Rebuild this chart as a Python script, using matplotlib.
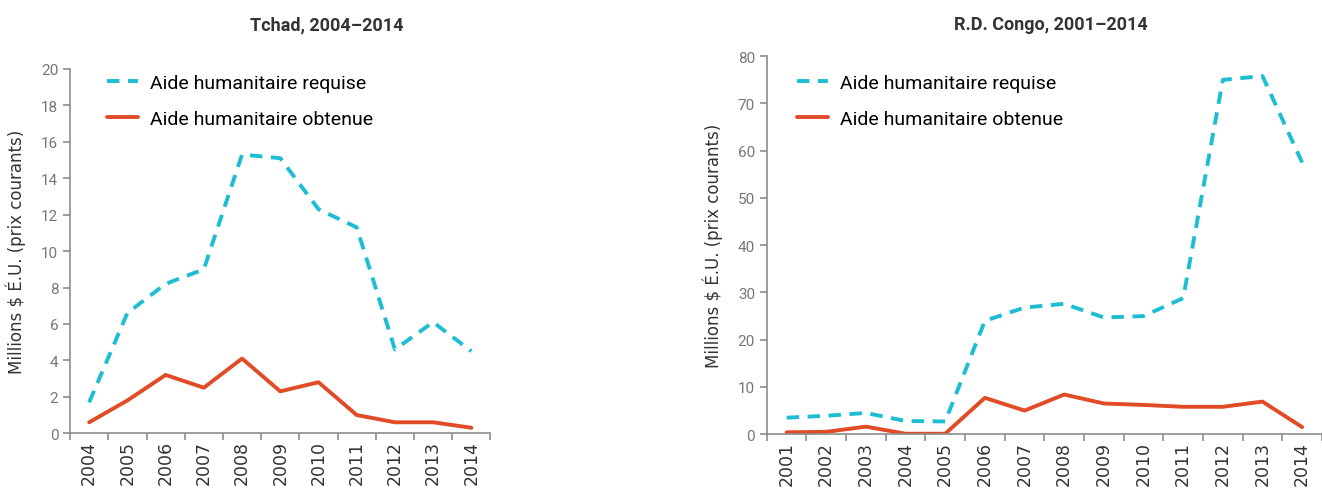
import numpy as np
import matplotlib
matplotlib.use("Agg")
import matplotlib.pyplot as plt
from matplotlib import font_manager

# ============================================================
# DATA
# ============================================================

tchad_years = [str(y) for y in range(2004, 2015)]
tchad_requise = [1.7, 6.6, 8.2, 9.0, 15.3, 15.1, 12.3, 11.3, 4.6, 6.1, 4.5]
tchad_obtenue = [0.6, 1.8, 3.2, 2.5, 4.1, 2.3, 2.8, 1.0, 0.6, 0.6, 0.3]

congo_years = [str(y) for y in range(2001, 2015)]
congo_requise = [3.5, 3.9, 4.5, 2.8, 2.7, 24.0, 26.8, 27.6, 24.7, 25.0, 28.8, 75.0, 75.8, 57.5]
congo_obtenue = [0.4, 0.5, 1.6, 0.1, 0.1, 7.7, 5.0, 8.4, 6.5, 6.2, 5.8, 5.8, 6.9, 1.5]

label_req = "Aide humanitaire requise"
label_obt = "Aide humanitaire obtenue"
ylabel = "Millions $ É.U. (prix courants)"

# ============================================================
# STYLE
# ============================================================

names = {f.name for f in font_manager.fontManager.ttflist}
narrow = "Liberation Sans Narrow" if "Liberation Sans Narrow" in names else "Roboto"
plt.rcParams["font.family"] = [narrow, "DejaVu Sans"]

CYAN = "#1DBDD3"
RED = "#E14B26"
AXIS = "#8C8C8C"


def draw_panel(fig, ax, years, req, obt, ymax, ystep, legend_xy):
    x = np.arange(len(years))
    ax.plot(x, req, color=CYAN, lw=2.8, ls=(0, (3.2, 2.2)), label=label_req)
    ax.plot(x, obt, color=RED, lw=2.8, label=label_obt, solid_capstyle="round")

    ax.set_xlim(-0.5, len(years) - 0.5)
    ax.set_ylim(0, ymax)
    ax.set_yticks(np.arange(0, ymax + 0.1, ystep))

    # ticks between categories, labels at category centres
    ax.set_xticks(np.arange(-0.5, len(years), 1.0))
    ax.set_xticklabels([])
    ax.set_xticks(x, minor=True)
    ax.set_xticklabels(years, minor=True, rotation=90, fontsize=12.5,
                       color="#333333", family="DejaVu Sans")
    ax.tick_params(axis="x", which="minor", length=0, pad=5)
    ax.tick_params(axis="x", which="major", length=5, color=AXIS, width=1.2)
    ax.tick_params(axis="y", length=5, color=AXIS, width=1.2,
                   labelsize=11, labelcolor="#777777")

    for side in ["top", "right"]:
        ax.spines[side].set_visible(False)
    for side in ["left", "bottom"]:
        ax.spines[side].set_color(AXIS)
        ax.spines[side].set_linewidth(1.2)

    ax.set_ylabel(ylabel, fontsize=12, color="#333333", family="DejaVu Sans")

    ax.legend(loc="upper left", bbox_to_anchor=legend_xy,
              bbox_transform=fig.transFigure, frameon=False,
              borderpad=0, borderaxespad=0,
              fontsize=14, handlelength=1.6, labelspacing=0.95,
              handletextpad=0.6)


fig = plt.figure(figsize=(13.22, 4.89), dpi=100)

ax1 = fig.add_axes([0.053, 0.112, 0.318, 0.745])
draw_panel(fig, ax1, tchad_years, tchad_requise, tchad_obtenue, 20, 2,
           (0.081, 0.847))
ax1.yaxis.set_label_coords(-0.105, 0.5)

ax2 = fig.add_axes([0.580, 0.110, 0.420, 0.773])
draw_panel(fig, ax2, congo_years, congo_requise, congo_obtenue, 80, 10,
           (0.603, 0.847))
ax2.yaxis.set_label_coords(-0.078, 0.5)

fig.text(0.247, 0.948, "Tchad, 2004–2014", ha="center", va="center",
         fontsize=13, fontweight="bold", color="#333333")
fig.text(0.795, 0.948, "R.D. Congo, 2001–2014", ha="center", va="center",
         fontsize=13, fontweight="bold", color="#333333")

fig.savefig("out.png", dpi=100)
